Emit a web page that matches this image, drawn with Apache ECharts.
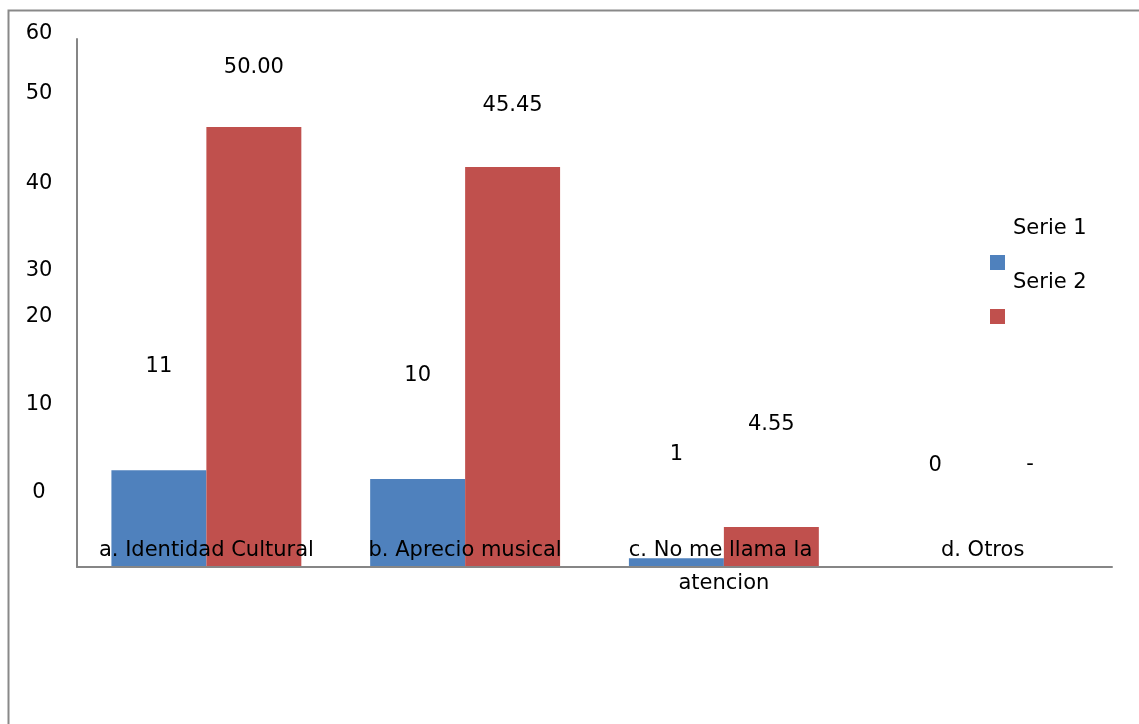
<!DOCTYPE html>
<html>
<head>
<meta charset="utf-8">
<script src="https://cdn.jsdelivr.net/npm/echarts@6/dist/echarts.min.js"></script>
<style>html,body{margin:0;padding:0;background:#fff}#c{width:1139px;height:724px}</style>
</head>
<body>
<div id="c"></div>
<script>
var categories = ['a. Identidad Cultural', 'b. Aprecio musical', 'c. No me llama la atencion', 'd. Otros'];
var serie1 = [11, 10, 1, 0];
var serie2 = [50.00, 45.45, 4.55, 0];
var seriesNames = ['Serie 1', 'Serie 2'];
var yTickLabels = ['0', '10', '20', '30', '40', '50', '60'];

// layout-only constants (misplaced tick labels in the original)
var yLabelPixelY = [493, 405, 317, 271, 184, 94, 34];
var blueLabelDist = [93, 93, 93, 91];
var redLabelDist = [49, 51, 92, 92];

var FONT = 'DejaVu Sans';
var chart = echarts.init(document.getElementById('c'));

var graphics = [{
  type: 'rect', left: 6, top: 8, silent: true,
  shape: { x: 0, y: 0, width: 1200, height: 800 },
  style: { fill: 'none', stroke: '#898989', lineWidth: 2 }
}];
yTickLabels.forEach(function (t, i) {
  graphics.push({
    type: 'text', x: 39, y: yLabelPixelY[i], silent: true,
    style: { text: t, fill: '#000', font: '21px "' + FONT + '"', align: 'center', verticalAlign: 'middle' }
  });
});

chart.setOption({
  animation: false,
  textStyle: { fontFamily: FONT },
  grid: { left: 77, right: 27, top: 39, bottom: 157 },
  legend: [{
    // text part of the legend
    orient: 'vertical', left: 993, top: 216, padding: 0,
    itemWidth: 15, itemHeight: 15, itemGap: 29,
    icon: 'rect',
    itemStyle: { color: 'rgba(0,0,0,0)', borderWidth: 0 },
    data: seriesNames,
    textStyle: { fontSize: 21, color: '#000', fontFamily: FONT, lineHeight: 25 }
  }, {
    // marker part of the legend
    orient: 'vertical', left: 990, top: 255, padding: 0,
    itemWidth: 15, itemHeight: 15, itemGap: 39,
    icon: 'rect',
    data: seriesNames,
    formatter: function () { return ''; },
    textStyle: { fontSize: 1 }
  }],
  xAxis: {
    type: 'category', data: categories, z: 10,
    axisLine: { lineStyle: { color: '#868686', width: 2 } },
    axisTick: { show: false },
    axisLabel: {
      interval: 0, margin: -33, fontSize: 21, color: '#000', lineHeight: 33,
      width: 226, overflow: 'break', fontFamily: FONT
    }
  },
  yAxis: {
    type: 'value', min: 0, max: 60, interval: 10,
    axisLine: { show: true, lineStyle: { color: '#868686', width: 2 } },
    axisTick: { show: false },
    splitLine: { show: false },
    axisLabel: { show: false }
  },
  series: [{
    name: seriesNames[0], type: 'bar', barGap: '0%', barCategoryGap: '26.6%',
    itemStyle: { color: '#4F81BD' },
    data: serie1.map(function (v, i) { return { value: v, label: { distance: blueLabelDist[i] } }; }),
    label: { show: true, position: 'top', fontSize: 21, color: '#000', fontFamily: FONT,
      formatter: function (p) { return String(p.value); } }
  }, {
    name: seriesNames[1], type: 'bar', barGap: '0%', barCategoryGap: '26.6%',
    itemStyle: { color: '#C0504D' },
    data: serie2.map(function (v, i) { return { value: v, label: { distance: redLabelDist[i] } }; }),
    label: { show: true, position: 'top', fontSize: 21, color: '#000', fontFamily: FONT,
      formatter: function (p) { return p.value === 0 ? '-' : p.value.toFixed(2); } }
  }],
  graphic: graphics
});
</script>
</body>
</html>
